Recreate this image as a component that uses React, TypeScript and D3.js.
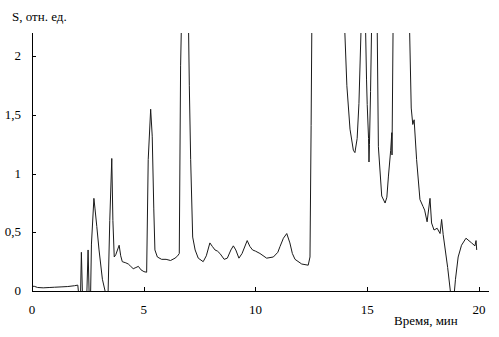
import React from "react";
import * as d3 from "d3";

const times: number[] = [
  0.0, 0.1, 0.25, 0.5, 0.8, 1.0, 1.3, 1.6, 1.9, 2.05,
  2.1, 2.17, 2.21, 2.26, 2.45, 2.51, 2.56, 2.62, 2.66, 2.77,
  2.82, 2.9, 3.0, 3.15, 3.33, 3.4, 3.48, 3.57, 3.62, 3.68,
  3.75, 3.9, 3.97, 4.04, 4.2, 4.31, 4.42, 4.53, 4.65, 4.76,
  4.88, 5.01, 5.13, 5.2, 5.31, 5.38, 5.45, 5.5, 5.61, 5.8,
  6.0, 6.2, 6.4, 6.52, 6.59, 6.65, 6.72, 6.98, 7.04, 7.1,
  7.19, 7.3, 7.44, 7.66, 7.8, 7.96, 8.07, 8.19, 8.3, 8.41,
  8.6, 8.74, 8.9, 9.01, 9.12, 9.26, 9.4, 9.63, 9.75, 9.87,
  10.0, 10.2, 10.5, 10.8, 11.0, 11.1, 11.25, 11.4, 11.54, 11.65,
  11.77, 12.07, 12.36, 12.44, 12.49, 12.55, 13.95, 14.0, 14.09, 14.23,
  14.38, 14.45, 14.55, 14.63, 14.72, 14.78, 14.88, 14.93, 14.97, 15.0,
  15.06, 15.08, 15.1, 15.15, 15.2, 15.25, 15.4, 15.45, 15.5, 15.65,
  15.8, 15.88, 15.95, 16.05, 16.1, 16.11, 16.16, 16.2, 16.85, 16.9,
  16.97, 17.04, 17.1, 17.21, 17.36, 17.5, 17.57, 17.68, 17.81, 17.88,
  17.99, 18.13, 18.26, 18.33, 18.4, 18.6, 18.75, 18.88, 18.95, 19.07,
  19.22, 19.42, 19.67, 19.82, 19.87, 19.9,
];

const signal: number[] = [
  0.04, 0.04, 0.03, 0.027, 0.03, 0.032, 0.035, 0.038, 0.045, 0.05,
  -0.05, -0.05, 0.33, -0.05, -0.05, 0.35, -0.05, -0.05, 0.4, 0.79,
  0.7, 0.55, 0.35, 0.1, -0.05, -0.05, 0.6, 1.13, 0.6, 0.29,
  0.31, 0.39, 0.3, 0.25, 0.24, 0.23, 0.21, 0.19, 0.2, 0.21,
  0.18, 0.165, 0.16, 1.12, 1.55, 1.32, 0.7, 0.35, 0.29, 0.27,
  0.27, 0.26, 0.28, 0.3, 0.32, 1.92, 2.6, 2.6, 1.75, 1.12,
  0.46, 0.35, 0.28, 0.25, 0.3, 0.41, 0.38, 0.35, 0.34, 0.32,
  0.27, 0.28, 0.35, 0.385, 0.35, 0.28, 0.32, 0.43, 0.38, 0.35,
  0.34, 0.32, 0.28, 0.29, 0.33, 0.38, 0.45, 0.49, 0.41, 0.32,
  0.27, 0.23, 0.22, 0.29, 1.41, 3.0, 3.0, 2.2, 1.75, 1.38,
  1.2, 1.18, 1.3, 1.6, 2.2, 3.0, 3.0, 2.2, 1.8, 1.59,
  1.3, 1.1, 1.25, 1.7, 2.3, 3.0, 3.0, 2.2, 1.23, 0.81,
  0.75, 0.8, 0.98, 1.2, 1.35, 1.16, 2.3, 3.0, 3.0, 2.2,
  1.56, 1.42, 1.46, 1.12, 0.78, 0.72, 0.69, 0.59, 0.79, 0.58,
  0.52, 0.535, 0.49, 0.61, 0.48, 0.2, -0.05, -0.05, 0.1, 0.29,
  0.39, 0.45, 0.41, 0.385, 0.43, 0.35,
];

const xTicks: number[] = [0, 5, 10, 15, 20];
const yTicks: number[] = [0, 0.5, 1, 1.5, 2];
const yTickLabels: string[] = ["0", "0,5", "1", "1,5", "2"];

const X0 = 32, X1 = 489, Y0 = 291, Y1 = 33;
const textStyle: React.CSSProperties = {
  fontFamily: '"Times New Roman", Times, "Liberation Serif", Tinos, serif',
  fontSize: "13px",
};

export default function App() {
  const x = d3.scaleLinear().domain([0, 20.45]).range([X0, X1]);
  const y = d3.scaleLinear().domain([0, 2.2]).range([Y0, Y1]);
  const pts: [number, number][] = times.map((t, i) => [t, signal[i]]);
  const line = d3
    .line<[number, number]>()
    .x((d) => x(d[0]))
    .y((d) => y(d[1]));
  return (
    <svg
      width={499}
      height={337}
      style={{ position: "absolute", left: 0, top: 0, background: "#fff" }}
    >
      <defs>
        <clipPath id="plot">
          <rect x={X0} y={Y1} width={X1 - X0} height={Y0 - Y1} />
        </clipPath>
      </defs>
      <path
        d={line(pts) || ""}
        fill="none"
        stroke="#1a1a1a"
        strokeWidth={1}
        clipPath="url(#plot)"
      />
      <line x1={X0 + 0.5} x2={X0 + 0.5} y1={Y1} y2={Y0} stroke="#000" />
      <line x1={X0} x2={X1} y1={Y0 + 0.5} y2={Y0 + 0.5} stroke="#000" />
      {yTicks.map((v, i) => (
        <g key={"y" + i}>
          {v > 0 && (
            <line
              x1={X0}
              x2={X0 + 4}
              y1={Math.round(y(v)) + 0.5}
              y2={Math.round(y(v)) + 0.5}
              stroke="#000"
            />
          )}
          <text x={21} y={y(v) + 4} textAnchor="end" style={textStyle} fill="#000">
            {yTickLabels[i]}
          </text>
        </g>
      ))}
      {xTicks.map((v, i) => (
        <g key={"x" + i}>
          {v > 0 && (
            <line
              x1={Math.round(x(v)) + 0.5}
              x2={Math.round(x(v)) + 0.5}
              y1={Y0}
              y2={Y0 - 4}
              stroke="#000"
            />
          )}
          <text x={x(v)} y={314} textAnchor="middle" style={textStyle} fill="#000">
            {v}
          </text>
        </g>
      ))}
      <text x={12} y={21} style={textStyle} fill="#000">
        S, отн. ед.
      </text>
      <text x={394} y={325} style={textStyle} fill="#000">
        Время, мин
      </text>
    </svg>
  );
}
